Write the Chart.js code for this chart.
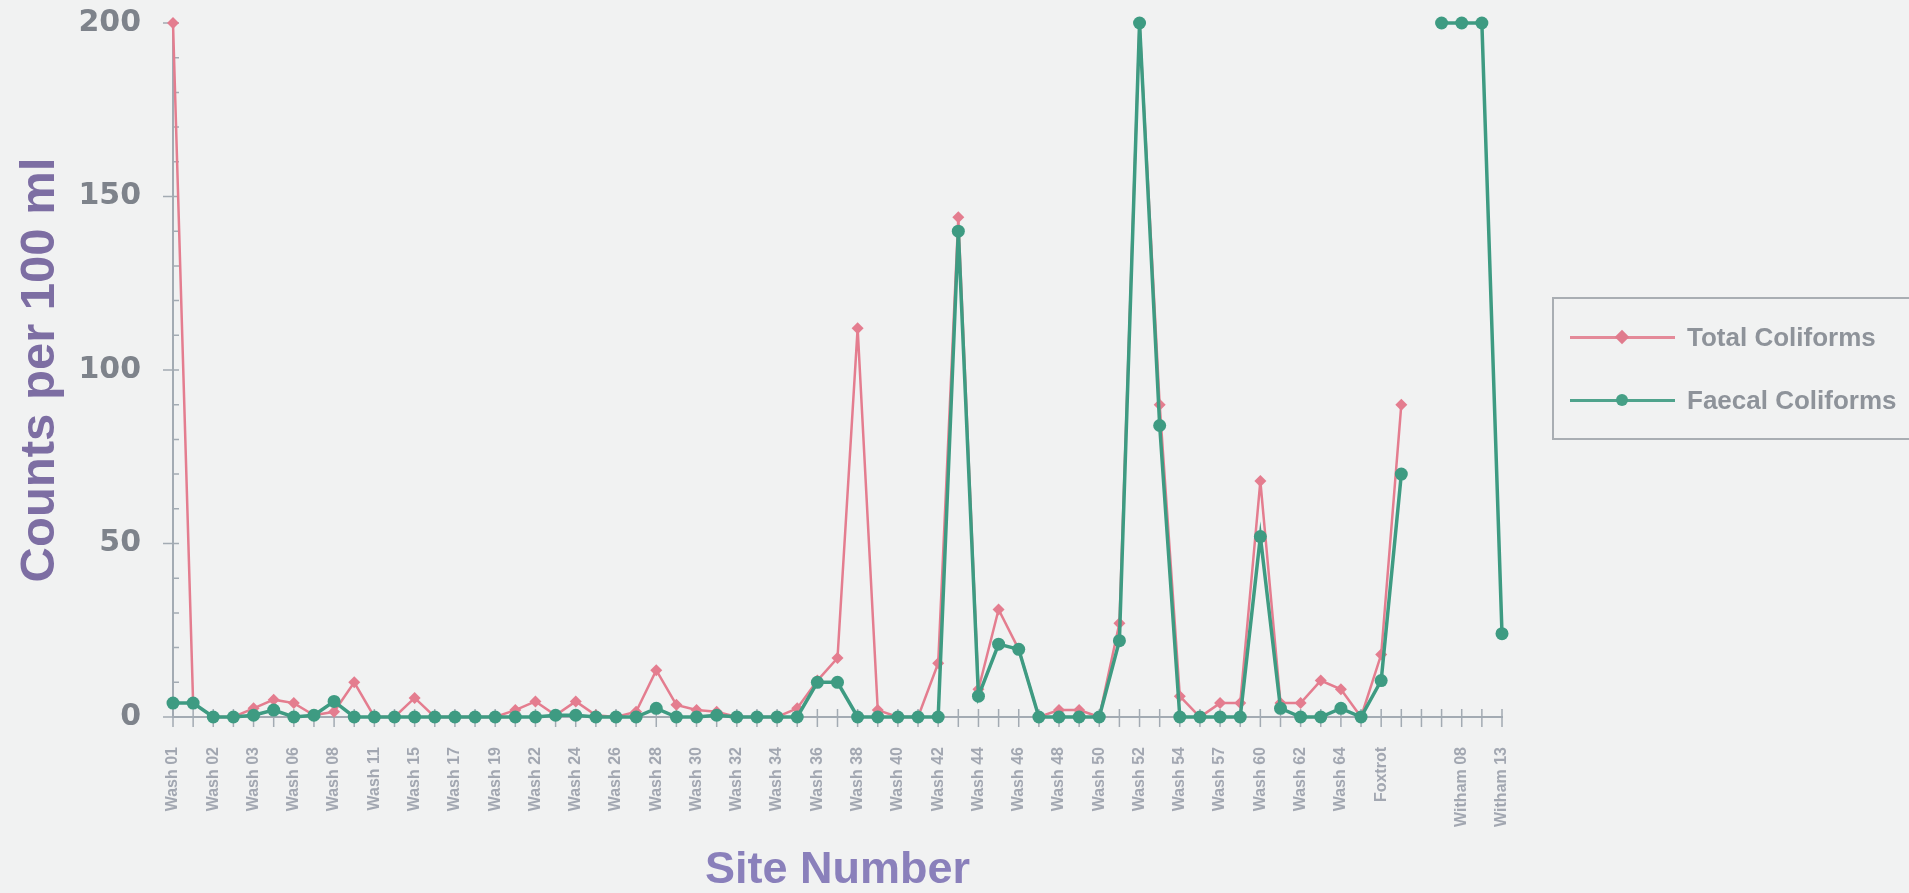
<!DOCTYPE html>
<html>
<head>
<meta charset="utf-8">
<script src="https://cdn.jsdelivr.net/npm/chart.js@4"></script>
<style>
  html, body { margin: 0; padding: 0; background: #f1f2f2; overflow: hidden; }
  #wrap { position: relative; width: 1909px; height: 893px; }
  #legend {
    position: absolute; left: 1552px; top: 297px; width: 362px; height: 143px;
    border: 2px solid #a9aeb3; box-sizing: border-box;
    font: bold 26px "Liberation Sans", Arial, sans-serif; color: #8e939a;
  }
  .item { position: absolute; left: 0; height: 2px; width: 100%; }
  .item .line { position: absolute; left: 16px; width: 105px; top: -1.5px; height: 3px; }
  .item .mark { position: absolute; left: 62px; width: 12px; height: 12px; top: -6px; }
  .item .txt { position: absolute; left: 133px; top: -15px; line-height: 30px; white-space: nowrap; }
</style>
</head>
<body>
<div id="wrap">
  <canvas id="chart" width="1909" height="893"></canvas>
  <div id="legend">
    <div class="item" style="top:38px">
      <div class="line" style="background:#e48a99"></div>
      <div class="mark" style="background:#e07b8d; transform: rotate(45deg) scale(0.85)"></div>
      <div class="txt">Total Coliforms</div>
    </div>
    <div class="item" style="top:101px">
      <div class="line" style="background:#4fa38c"></div>
      <div class="mark" style="background:#46a086; border-radius:50%"></div>
      <div class="txt">Faecal Coliforms</div>
    </div>
  </div>
</div>
<script>
// Site labels as printed on the axis; unreadable (skipped) ones left blank.
const sites = [
  "Wash 01", "", "Wash 02", "", "Wash 03", "", "Wash 06", "", "Wash 08", "",
  "Wash 11", "", "Wash 15", "", "Wash 17", "", "Wash 19", "", "Wash 22", "",
  "Wash 24", "", "Wash 26", "", "Wash 28", "", "Wash 30", "", "Wash 32", "",
  "Wash 34", "", "Wash 36", "", "Wash 38", "", "Wash 40", "", "Wash 42", "",
  "Wash 44", "", "Wash 46", "", "Wash 48", "", "Wash 50", "", "Wash 52", "",
  "Wash 54", "", "Wash 57", "", "Wash 60", "", "Wash 62", "", "Wash 64", "",
  "Foxtrot", "", "", "", "Witham 08", "", "Witham 13"
];

const totalColiforms = [
  200, 4, 0, 0, 2.5, 5, 4, 0.5, 1.5, 10,
  0, 0, 5.5, 0, 0, 0, 0, 2, 4.5, 0.5,
  4.5, 0.5, 0, 1.5, 13.5, 3.5, 2, 1.5, 0, 0,
  0, 2.5, 10.5, 17, 112, 2, 0, 0, 15.5, 144,
  8, 31, 19.5, 0, 2, 2, 0, 27, 200, 90,
  6, 0, 4, 4, 68, 4, 4, 10.5, 8, 0,
  18, 90, null, null, null, null, null
];

const faecalColiforms = [
  4, 4, 0, 0, 0.5, 2, 0, 0.5, 4.5, 0,
  0, 0, 0, 0, 0, 0, 0, 0, 0, 0.5,
  0.5, 0, 0, 0, 2.5, 0, 0, 0.5, 0, 0,
  0, 0, 10, 10, 0, 0, 0, 0, 0, 140,
  6, 21, 19.5, 0, 0, 0, 0, 22, 200, 84,
  0, 0, 0, 0, 52, 2.5, 0, 0, 2.5, 0,
  10.5, 70, null, 200, 200, 200, 24
];

const yTicks = [0, 50, 100, 150, 200];

const AXIS = "#a3abb3";
const PINK = "#e47d8f";
const GREEN = "#3e9b82";

// small crossing tick marks on both axes, minor ones every 10 on y
const tickMarks = {
  id: "tickMarks",
  beforeDatasetsDraw(chart) {
    const { ctx, scales: { x, y } } = chart;
    const x0 = x.left;
    const y0 = y.getPixelForValue(0);
    ctx.save();
    ctx.strokeStyle = AXIS;
    ctx.lineWidth = 1.5;
    ctx.beginPath();
    for (let v = 0; v <= 200; v += 10) {
      const py = y.getPixelForValue(v);
      const major = yTicks.includes(v);
      ctx.moveTo(major ? x0 - 10 : x0, py);
      ctx.lineTo(x0 + 6, py);
    }
    sites.forEach((_, i) => {
      const px = x.getPixelForValue(i);
      ctx.moveTo(px, y0 - 8);
      ctx.lineTo(px, y0 + 10);
    });
    ctx.stroke();
    ctx.restore();
  }
};

new Chart(document.getElementById("chart"), {
  type: "line",
  data: {
    labels: sites,
    datasets: [
      {
        label: "Total Coliforms",
        data: totalColiforms,
        borderColor: PINK,
        backgroundColor: PINK,
        borderWidth: 2.5,
        pointStyle: "rectRot",
        pointRadius: 6,
        pointBorderWidth: 0,
        pointBackgroundColor: PINK,
        spanGaps: false,
        clip: false,
        order: 2
      },
      {
        label: "Faecal Coliforms",
        data: faecalColiforms,
        borderColor: GREEN,
        backgroundColor: GREEN,
        borderWidth: 3.5,
        pointStyle: "circle",
        pointRadius: 6.5,
        pointBorderWidth: 0,
        pointBackgroundColor: GREEN,
        spanGaps: false,
        clip: false,
        order: 1
      }
    ]
  },
  options: {
    responsive: false,
    devicePixelRatio: 1,
    animation: false,
    layout: { padding: { top: 23, right: 407, left: 0, bottom: 0 } },
    plugins: { legend: { display: false }, tooltip: { enabled: false } },
    scales: {
      x: {
        offset: false,
        grid: { display: false, drawTicks: false },
        border: { display: true, color: AXIS, width: 2 },
        ticks: {
          autoSkip: false,
          minRotation: 90,
          maxRotation: 90,
          padding: 30,
          color: "#a2a7b1",
          font: { family: "Liberation Sans", weight: "bold", size: 16 }
        },
        title: {
          display: true,
          text: "Site Number",
          color: "#8a80bb",
          font: { family: "Liberation Sans", weight: "bold", size: 45, lineHeight: 1 },
          padding: { top: 0, bottom: 0 }
        },
        afterFit(scale) { scale.height = 176; }
      },
      y: {
        min: 0,
        max: 200,
        grid: { display: false, drawTicks: false },
        border: { display: true, color: AXIS, width: 2 },
        afterBuildTicks(scale) { scale.ticks = yTicks.map(v => ({ value: v })); },
        ticks: {
          padding: 32,
          color: "#7e838b",
          font: { family: "DejaVu Sans", weight: "bold", size: 30 }
        },
        title: {
          display: true,
          text: "Counts per 100 ml",
          color: "#7d6ea3",
          font: { family: "Liberation Sans", weight: "bold", size: 49, lineHeight: 1.2 },
          padding: { top: 11, bottom: 0 }
        },
        afterFit(scale) {
          scale.width = 173;
          scale.paddingTop = 0;
          scale.paddingBottom = 0;
        }
      }
    }
  },
  plugins: [tickMarks]
});
</script>
</body>
</html>
